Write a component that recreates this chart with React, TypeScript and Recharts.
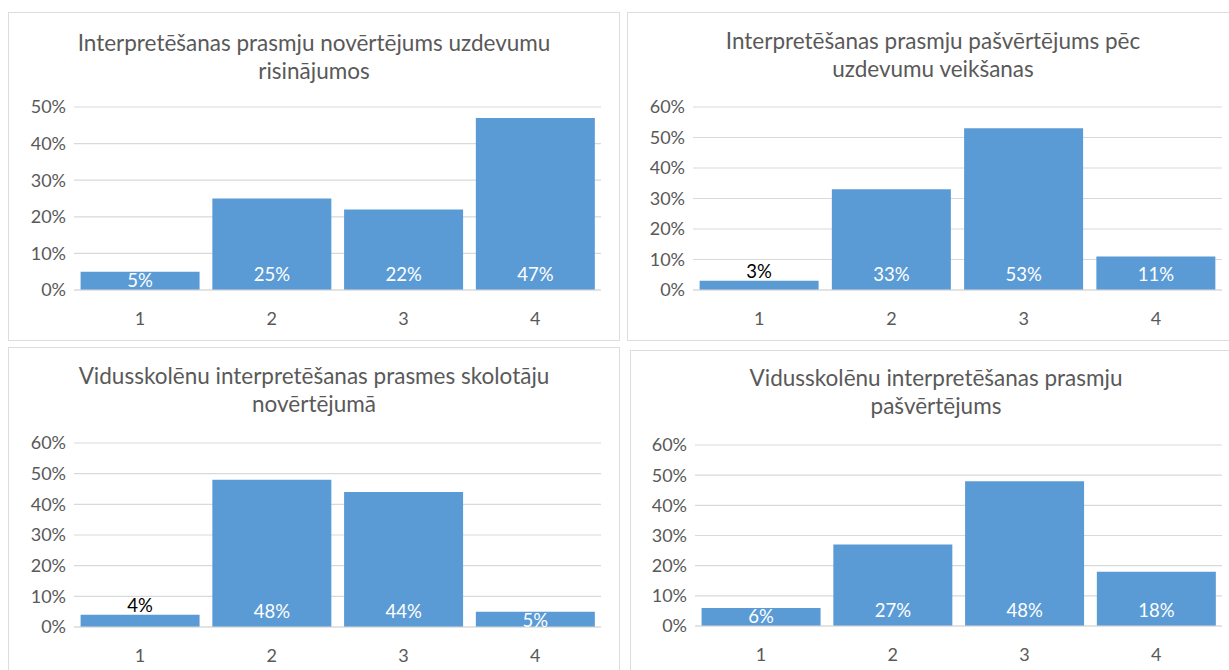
import React from 'react';
import { BarChart, Bar, XAxis, YAxis, CartesianGrid, LabelList } from 'recharts';

const categories = ['1', '2', '3', '4'];

const uzdevumiVertejums = [0.05, 0.25, 0.22, 0.47];
const uzdevumiPasvertejums = [0.03, 0.33, 0.53, 0.11];
const skolotajuVertejums = [0.04, 0.48, 0.44, 0.05];
const vidusskolenuPasvertejums = [0.06, 0.27, 0.48, 0.18];

const ticks50 = [0, 0.1, 0.2, 0.3, 0.4, 0.5];
const ticks60 = [0, 0.1, 0.2, 0.3, 0.4, 0.5, 0.6];

const BLUE = '#5B9BD5';
const TEXT = '#595959';
const GRID = '#D9D9D9';
const FONT = 'Lato, "Open Sans", sans-serif';

const toRows = (values: number[]) => categories.map((c, i) => ({ cat: c, value: values[i] }));
const pct = (v: number) => `${Math.round(v * 100)}%`;

// Excel-style "inside base" label; falls back to black text above very short bars
const BaseLabel = (props: any) => {
  const { x, y, width, height, value } = props;
  const base = y + height;
  const cx = x + width / 2;
  if (height < 14) {
    return (
      <text x={cx} y={y - 10} textAnchor="middle" dominantBaseline="central"
        fill="#000" fontSize={18.5} fontFamily={FONT}>{pct(value)}</text>
    );
  }
  const cy = Math.max(y + 8, base - 16);
  return (
    <text x={cx} y={cy} textAnchor="middle" dominantBaseline="central"
      fill="#fff" fontSize={18.5} fontFamily={FONT}>{pct(value)}</text>
  );
};

interface PanelProps {
  title: string[];
  values: number[];
  ticks: number[];
  left: number;
  top: number;
  width: number;
  height: number;
  plotTop: number;
  plotBottom: number;
  plotLeft: number;
  plotRight: number;
  titleY: number;
}

const Panel = (p: PanelProps) => {
  const yAxisWidth = 56;
  const xAxisHeight = 34;
  const margin = {
    top: p.plotTop - p.top,
    left: p.plotLeft - p.left - yAxisWidth,
    right: p.left + p.width - p.plotRight,
    bottom: p.top + p.height - p.plotBottom - xAxisHeight,
  };
  return (
    <>
      <div style={{
        position: 'absolute', left: p.left, top: p.top, width: p.width, height: p.height,
        border: '1.5px solid #DDDDDD', boxSizing: 'border-box', background: '#fff',
      }} />
      <div style={{
        position: 'absolute', left: p.left, top: p.titleY - 15, width: p.width,
        textAlign: 'center', fontFamily: FONT, fontSize: 22.5, lineHeight: '28px', color: TEXT,
      }}>
        {p.title.map((t) => <div key={t}>{t}</div>)}
      </div>
      <div style={{ position: 'absolute', left: p.left, top: p.top }}>
        <BarChart width={p.width} height={p.height} data={toRows(p.values)}
          margin={margin} barCategoryGap="5%">
          <CartesianGrid vertical={false} stroke={GRID} strokeWidth={1.2} />
          <XAxis dataKey="cat" axisLine={{ stroke: GRID, strokeWidth: 1.2 }} tickLine={false}
            height={xAxisHeight} tickMargin={16}
            tick={{ fill: TEXT, fontSize: 18, fontFamily: FONT }} />
          <YAxis width={yAxisWidth} domain={[0, p.ticks[p.ticks.length - 1]]} ticks={p.ticks}
            axisLine={false} tickLine={false} tickFormatter={pct}
            tick={{ fill: TEXT, fontSize: 18, fontFamily: FONT }} />
          <Bar dataKey="value" fill={BLUE} isAnimationActive={false}>
            <LabelList dataKey="value" content={BaseLabel} />
          </Bar>
        </BarChart>
      </div>
    </>
  );
};

export default function App() {
  return (
    <div style={{ position: 'fixed', left: 0, top: 0, width: 1229, height: 670, background: '#fff', overflow: 'hidden' }}>
      <Panel title={['Interpretēšanas prasmju novērtējums uzdevumu', 'risinājumos']}
        values={uzdevumiVertejums} ticks={ticks50}
        left={8} top={12} width={612} height={329}
        plotTop={107} plotBottom={290} plotLeft={74} plotRight={601} titleY={44} />
      <Panel title={['Interpretēšanas prasmju pašvērtējums pēc', 'uzdevumu veikšanas']}
        values={uzdevumiPasvertejums} ticks={ticks60}
        left={627} top={12} width={612} height={329}
        plotTop={107} plotBottom={290} plotLeft={693} plotRight={1222} titleY={42} />
      <Panel title={['Vidusskolēnu interpretēšanas prasmes skolotāju', 'novērtējumā']}
        values={skolotajuVertejums} ticks={ticks60}
        left={8} top={347} width={612} height={340}
        plotTop={443} plotBottom={627} plotLeft={74} plotRight={601} titleY={377} />
      <Panel title={['Vidusskolēnu interpretēšanas prasmju', 'pašvērtējums']}
        values={vidusskolenuPasvertejums} ticks={ticks60}
        left={630} top={350} width={612} height={340}
        plotTop={445} plotBottom={626} plotLeft={695} plotRight={1222} titleY={379} />
    </div>
  );
}
